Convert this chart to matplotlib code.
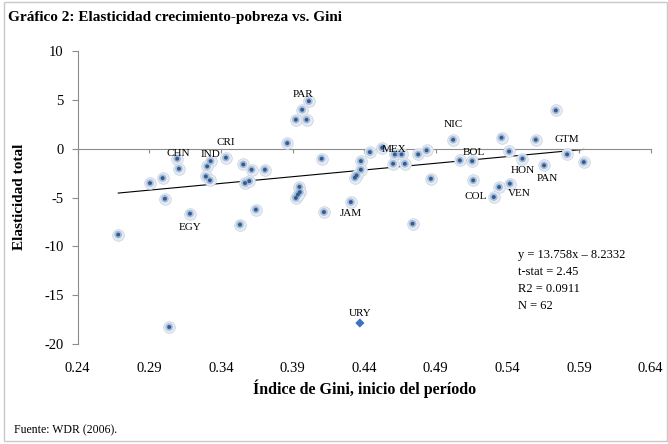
import matplotlib.pyplot as plt
from matplotlib.patches import Rectangle
import numpy as np

# ----- datos: índice de Gini (inicio) vs elasticidad total -----
gini = [0.3095, 0.3107, 0.2905, 0.2993, 0.3009, 0.3184, 0.2683, 0.3328, 0.3304, 0.3295,
        0.3323, 0.3435, 0.3556, 0.3614, 0.3707, 0.3568, 0.3598, 0.3644, 0.3533, 0.4014,
        0.3967, 0.3923, 0.3998, 0.3863, 0.4103, 0.3948, 0.3951, 0.3923, 0.3937, 0.4119,
        0.4307, 0.4440, 0.4526, 0.4377, 0.4377, 0.4347, 0.4335, 0.4614, 0.4661, 0.4602,
        0.4684, 0.4777, 0.4836, 0.4866, 0.4738, 0.5021, 0.5359, 0.5598, 0.5738, 0.5412,
        0.5505, 0.5656, 0.5817, 0.5933, 0.5068, 0.5154, 0.5161, 0.5342, 0.5417, 0.5305,
        0.3039]
elast = [-1.02, -2.05, -3.52, -3.01, -5.12, -6.65, -8.80, -1.27, -1.81, -2.84,
         -3.24, -0.92, -1.61, -2.15, -2.15, -3.52, -3.32, -6.24, -7.78, 4.87,
         3.99, 2.97, 2.97, 0.57, -1.02, -3.91, -4.44, -5.04, -4.70, -6.49,
         -5.46, -0.35, 0.10, -1.27, -2.15, -2.73, -2.97, -0.58, -0.58, -1.54,
         -1.54, -0.58, -0.17, -3.07, -7.68, 0.92, 1.13, 0.92, 3.92, -0.28,
         -1.02, -1.71, -0.58, -1.37, -1.20, -1.27, -3.24, -3.93, -3.58, -4.95,
         -18.26]

# Uruguay se marca aparte (rombo)
ury_gini = 0.437
ury_elast = -17.85

# etiquetas de países: (nombre, índice del punto)
country_names = ["CHN", "IND", "CRI", "PAR", "NIC", "MEX", "BOL", "GTM",
                 "HON", "PAN", "COL", "VEN", "JAM", "EGY"]
country_idx = [0, 7, 11, 19, 45, 37, 55, 52, 50, 51, 59, 58, 30, 5]

slope = 13.758
intercept = -8.2332
stats_lines = ["y = 13.758x \u2013 8.2332", "t-stat = 2.45", "R2 = 0.0911", "N = 62"]

xticks = [0.24, 0.29, 0.34, 0.39, 0.44, 0.49, 0.54, 0.59, 0.64]
yticks = [10, 5, 0, -5, -10, -15, -20]

# ----- estilo -----
plt.rcParams['font.family'] = ['Liberation Serif', 'DejaVu Serif']
axis_gray = '#8c8c8c'

fig = plt.figure(figsize=(6.68, 4.44), dpi=100)
ax = fig.add_axes([0.1163, 0.2252, 0.8577, 0.6598])

# puntos con halo
ax.scatter(gini, elast, s=70, color='#e6ecf4', edgecolors='#cbd7e6', linewidths=0.6, zorder=3)
ax.scatter(gini, elast, s=30, color='#9bb1cf', edgecolors='none', alpha=0.8, zorder=4)
ax.scatter(gini, elast, s=8, color='#2e5b96', edgecolors='none', zorder=5)

ax.scatter([ury_gini], [ury_elast], marker='D', s=22, color='#3b72c4', edgecolors='none', zorder=5)
ax.annotate("URY", (ury_gini, ury_elast), xytext=(0, 6.5), textcoords='offset points',
            ha='center', va='center', fontsize=8)

# recta de tendencia
xs = np.array([min(gini), max(gini)])
ax.plot(xs, slope * xs + intercept, color='black', lw=0.8, zorder=2)

# etiquetas de países (desplazamientos en puntos)
offsets = {"CHN": (1, 4), "IND": (0, 4.5), "CRI": (0, 11), "PAR": (-4.5, 5),
           "NIC": (0, 11), "MEX": (-0.5, 3.5), "BOL": (1.2, 6), "GTM": (0, 10.5),
           "HON": (0, -8.5), "PAN": (2.2, -9.5), "COL": (-13, 0.5), "VEN": (7, -7),
           "JAM": (0, -8.5), "EGY": (0, -10)}
for name, i in zip(country_names, country_idx):
    ax.annotate(name, (gini[i], elast[i]), xytext=offsets[name], textcoords='offset points',
                ha='center', va='center', fontsize=8, zorder=6)

# ejes
ax.set_xlim(0.24, 0.64)
ax.set_ylim(-20, 10)
ax.spines['top'].set_visible(False)
ax.spines['right'].set_visible(False)
ax.spines['bottom'].set_position(('data', 0))
ax.spines['bottom'].set_color(axis_gray)
ax.spines['left'].set_color(axis_gray)
ax.spines['bottom'].set_linewidth(0.8)
ax.spines['left'].set_linewidth(0.8)

ax.set_yticks(yticks)
ax.set_yticklabels([str(v) for v in yticks])
ax.tick_params(axis='y', direction='out', length=4, width=0.8, color=axis_gray,
               labelsize=10.5, pad=6)
ax.set_xticks(xticks)
ax.tick_params(axis='x', direction='out', length=3, width=0.8, color=axis_gray,
               labelbottom=False)

# etiquetas del eje x abajo del gráfico
sec = ax.secondary_xaxis(0)
sec.set_xticks(xticks)
sec.set_xticklabels([f"{v:.2f}" for v in xticks])
sec.tick_params(length=0, labelsize=10.5, pad=13)
sec.spines['bottom'].set_visible(False)

fig.text(365 / 668, 1 - 389 / 444, "Índice de Gini, inicio del período", ha='center', va='center',
         fontsize=11.5, fontweight='bold')
fig.text(20 / 668, 1 - 197 / 444, "Elasticidad total", ha='center', va='center',
         rotation=90, fontsize=11, fontweight='bold')

ax.text(0.768, 0.325, "\n".join(stats_lines), transform=ax.transAxes, ha='left', va='top',
        fontsize=9, linespacing=1.55)

fig.text(8 / 668, 1 - 18 / 444, "Gráfico 2: Elasticidad crecimiento-pobreza vs. Gini",
         ha='left', va='center', fontsize=11, fontweight='bold')
fig.text(14 / 668, 1 - 430 / 444, "Fuente: WDR (2006).", ha='left', va='center', fontsize=8.5)

# marco gris de la figura
fig.patches.append(Rectangle((4 / 668, 3 / 444), 1 - 5 / 668, 1 - 5 / 444, transform=fig.transFigure,
                             fill=False, edgecolor='#c8c8c8', lw=1))

fig.savefig("out.png", dpi=100)
